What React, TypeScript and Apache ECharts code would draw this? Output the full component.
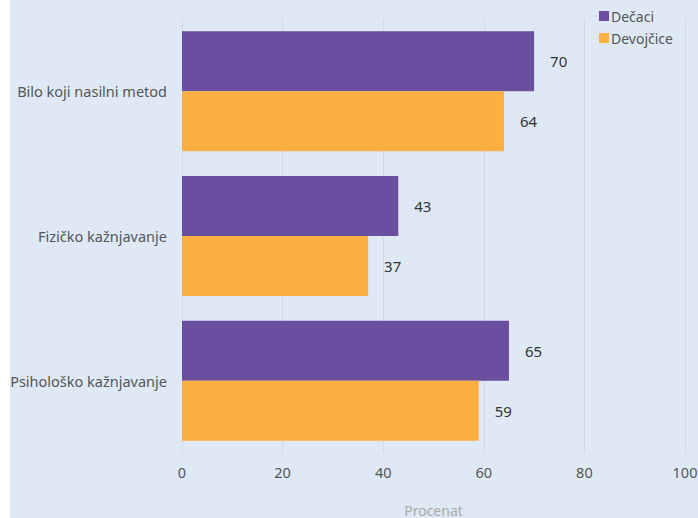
import React, { useEffect, useRef } from "react";
import * as echarts from "echarts";

const categories = ["Bilo koji nasilni metod", "Fizičko kažnjavanje", "Psihološko kažnjavanje"];
const seriesNames = ["Dečaci", "Devojčice"];
const boysValues = [70, 43, 65];
const girlsValues = [64, 37, 59];
const xTicks = [0, 20, 40, 60, 80, 100];
const colors = ["#6a4ea0", "#fcb042"];

export default function App() {
  const ref = useRef<HTMLDivElement>(null);
  useEffect(() => {
    if (!ref.current) return;
    const chart = echarts.init(ref.current, null, { renderer: "svg" });
    const font = "Noto Sans";
    chart.setOption({
      animation: false,
      backgroundColor: "#dee9f5",
      textStyle: { fontFamily: font },
      legend: {
        orient: "vertical",
        left: 584,
        top: 4,
        itemWidth: 10,
        itemHeight: 10,
        itemGap: 8,
        icon: "rect",
        textStyle: { fontSize: 14, color: "#555", fontFamily: font, padding: [0, 0, 0, -3] },
        data: seriesNames,
      },
      grid: { left: 172, right: 13, top: 19, bottom: 65, outerBoundsMode: "none", containLabel: false },
      xAxis: {
        type: "value",
        min: xTicks[0],
        max: xTicks[xTicks.length - 1],
        interval: 20,
        name: "Procenat",
        nameLocation: "middle",
        nameGap: 50,
        nameTextStyle: { color: "#aaa", fontSize: 14, fontFamily: font },
        axisLine: { show: false },
        axisTick: { show: false },
        axisLabel: { color: "#555", fontSize: 14.5, margin: 11, fontFamily: font },
        splitLine: { show: true, lineStyle: { color: "#d6d9dc", width: 1 } },
      },
      yAxis: {
        type: "category",
        inverse: true,
        data: categories,
        axisLine: { show: false },
        axisTick: { show: false },
        axisLabel: { color: "#555", fontSize: 14.5, margin: 15, fontFamily: font },
      },
      series: [
        {
          name: seriesNames[0],
          type: "bar",
          data: boysValues,
          barGap: "0%",
          barCategoryGap: "17%",
          itemStyle: { color: colors[0] },
          label: { show: true, position: "right", distance: 16, color: "#333", fontSize: 15, fontFamily: font },
        },
        {
          name: seriesNames[1],
          type: "bar",
          data: girlsValues,
          barGap: "0%",
          barCategoryGap: "17%",
          itemStyle: { color: colors[1] },
          label: { show: true, position: "right", distance: 16, color: "#333", fontSize: 15, fontFamily: font },
        },
      ],
    });
    return () => chart.dispose();
  }, []);
  return (
    <div style={{ position: "fixed", left: 10, top: 0, width: 688, height: 518 }}>
      <div ref={ref} style={{ width: 688, height: 518 }} />
    </div>
  );
}
